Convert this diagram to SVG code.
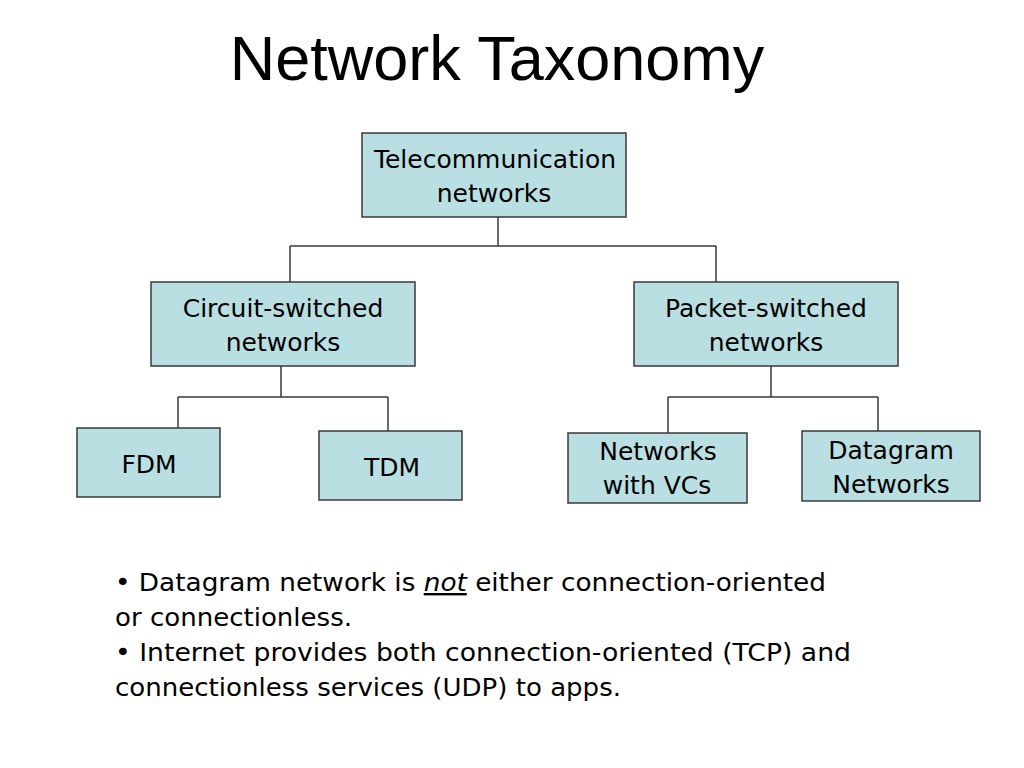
<svg xmlns="http://www.w3.org/2000/svg" width="1024" height="768" viewBox="0 0 1024 768">
<style>
.box{fill:#badfe3;stroke:#3a3a3a;stroke-width:1.5}
.lbl{font-family:"DejaVu Sans","Liberation Sans",sans-serif;font-size:25px;fill:#000;text-anchor:middle}
.con{stroke:#3a3a3a;stroke-width:1.5;fill:none}
.body{font-family:"DejaVu Sans","Liberation Sans",sans-serif;font-size:24px;fill:#000}
</style>
<rect width="1024" height="768" fill="#fff"/>
<text x="497" y="80" font-family="Liberation Sans, Arial, sans-serif" font-size="63" text-anchor="middle" fill="#000">Network Taxonomy</text>
<g id="connectors">
<path class="con" d="M498 217V246M290 246H716M290 246V282M716 246V282"/>
<path class="con" d="M281 366V397M178 397H388M178 397V428M388 397V431"/>
<path class="con" d="M771 366V397M668 397H878M668 397V433M878 397V431"/>
</g>
<g id="telecom">
<rect class="box" x="362" y="133" width="264" height="84"/>
<text class="lbl" x="495" y="168">Telecommunication</text>
<text class="lbl" x="494" y="202">networks</text>
</g>
<g id="circuit">
<rect class="box" x="151" y="282" width="264" height="84"/>
<text class="lbl" x="283" y="317">Circuit-switched</text>
<text class="lbl" x="283" y="351">networks</text>
</g>
<g id="packet">
<rect class="box" x="634" y="282" width="264" height="84"/>
<text class="lbl" x="766" y="317">Packet-switched</text>
<text class="lbl" x="766" y="351">networks</text>
</g>
<g id="fdm">
<rect class="box" x="77" y="428" width="143" height="69"/>
<text class="lbl" x="149" y="473">FDM</text>
</g>
<g id="tdm">
<rect class="box" x="319" y="431" width="143" height="69"/>
<text class="lbl" x="392" y="476">TDM</text>
</g>
<g id="vcs">
<rect class="box" x="568" y="433" width="179" height="70"/>
<text class="lbl" x="658" y="460">Networks</text>
<text class="lbl" x="657" y="494">with VCs</text>
</g>
<g id="datagram">
<rect class="box" x="802" y="431" width="178" height="70"/>
<text class="lbl" x="891" y="459">Datagram</text>
<text class="lbl" x="891" y="493">Networks</text>
</g>
<g id="notes">
<text class="body" x="115" y="591" textLength="711" lengthAdjust="spacingAndGlyphs">• Datagram network is <tspan font-style="italic" text-decoration="underline">not</tspan> either connection-oriented</text>
<text class="body" x="115" y="626" textLength="237" lengthAdjust="spacingAndGlyphs">or connectionless.</text>
<text class="body" x="115" y="661" textLength="736" lengthAdjust="spacingAndGlyphs">• Internet provides both connection-oriented (TCP) and</text>
<text class="body" x="115" y="696" textLength="506" lengthAdjust="spacingAndGlyphs">connectionless services (UDP) to apps.</text>
</g>
</svg>
